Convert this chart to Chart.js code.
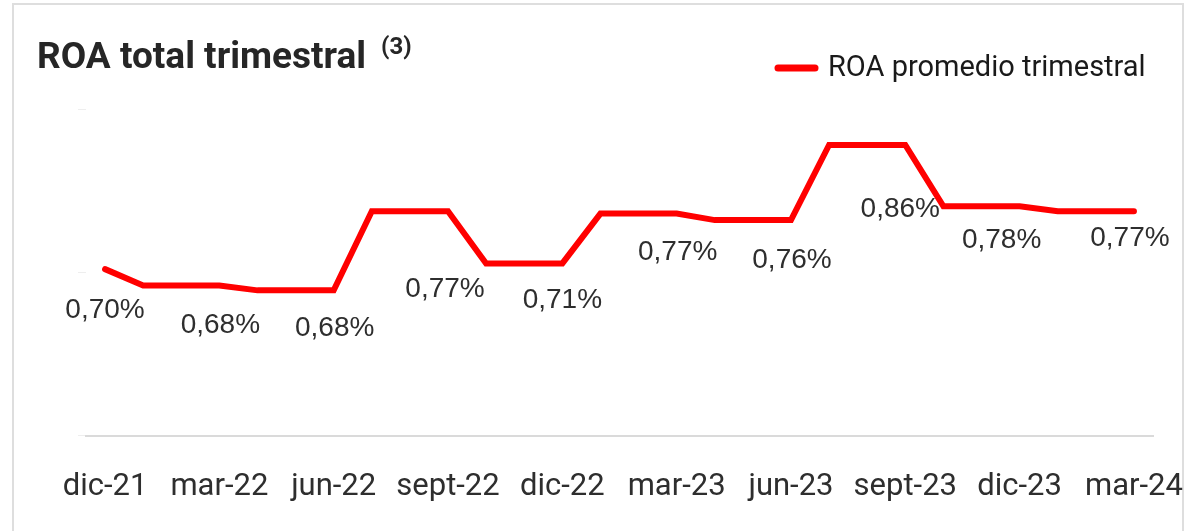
<!DOCTYPE html>
<html>
<head>
<meta charset="utf-8">
<script src="https://cdn.jsdelivr.net/npm/chart.js@4.4.1/dist/chart.umd.min.js"></script>
<style>
  html, body { margin: 0; padding: 0; background: #fff; }
  #wrap { position: relative; width: 1196px; height: 531px; overflow: hidden; }
  #frame {
    position: absolute; left: 12px; top: 3px; width: 1172px; height: 600px;
    border: 2px solid #dedede; box-sizing: border-box;
  }
  canvas { position: absolute; left: 0; top: 0; }
</style>
</head>
<body>
<div id="wrap">
  <div id="frame"></div>
  <canvas id="chart" width="1196" height="531"></canvas>
</div>
<script>
// ROA total trimestral — monthly line, quarter labels on the axis.

const QUARTERS = ["dic-21", "mar-22", "jun-22", "sept-22", "dic-22", "mar-23", "jun-23", "sept-23", "dic-23", "mar-24"];

// one value per month, dic-21 .. mar-24 (28 months)
const ROA_MONTHLY = [
  0.704,
  0.684, 0.684, 0.684,
  0.678, 0.678, 0.678,
  0.775, 0.775, 0.775,
  0.711, 0.711, 0.711,
  0.772, 0.772, 0.772,
  0.764, 0.764, 0.764,
  0.856, 0.856, 0.856,
  0.781, 0.781, 0.781,
  0.775, 0.775, 0.775,
];

// printed value at each quarter end
const ROA_QUARTER_TEXT = ["0,70%", "0,68%", "0,68%", "0,77%", "0,71%", "0,77%", "0,76%", "0,86%", "0,78%", "0,77%"];

const Y_TICKS = [0.5, 0.7, 0.9];

const RED = "#ff0000";
const TEXT = "#2e2e2e";

// label nudges (px) relative to the quarter-end point
const LABEL_DX = [0, 1, 1, -3, 0, 1, 1, -5, -18, -4];
const LABEL_DY = [41, 40, 38, 78, 37, 39, 40, 64, 34, 27];

const headerPlugin = {
  id: "header",
  afterDraw(chart) {
    const ctx = chart.ctx;
    ctx.save();
    ctx.fillStyle = "#262626";
    ctx.textBaseline = "alphabetic";
    ctx.textAlign = "left";
    ctx.font = "bold 37px Roboto";
    const title = "ROA total trimestral";
    ctx.fillText(title, 37, 68);
    const w = ctx.measureText(title).width;
    ctx.font = "bold 24px Roboto";
    ctx.fillText("(3)", 37 + w + 15, 54);

    // legend
    ctx.strokeStyle = RED;
    ctx.lineWidth = 7;
    ctx.lineCap = "round";
    ctx.beginPath();
    ctx.moveTo(778, 68);
    ctx.lineTo(815, 68);
    ctx.stroke();
    ctx.fillStyle = "#1a1a1a";
    ctx.font = "29px Roboto";
    ctx.textBaseline = "middle";
    ctx.fillText("ROA promedio trimestral", 828, 69);
    ctx.restore();
  },
};

const valueLabels = {
  id: "valueLabels",
  afterDatasetsDraw(chart) {
    const ctx = chart.ctx;
    const meta = chart.getDatasetMeta(0);
    ctx.save();
    ctx.fillStyle = TEXT;
    ctx.font = "28px 'Liberation Sans', Arial, sans-serif";
    ctx.textAlign = "center";
    ctx.textBaseline = "middle";
    ROA_QUARTER_TEXT.forEach((txt, q) => {
      const pt = meta.data[q * 3];
      if (!pt) return;
      ctx.fillText(txt, pt.x + LABEL_DX[q], pt.y + LABEL_DY[q]);
    });
    ctx.restore();
  },
};

new Chart(document.getElementById("chart"), {
  type: "line",
  data: {
    datasets: [{
      label: "ROA promedio trimestral",
      data: ROA_MONTHLY.map((v, i) => ({ x: i, y: v })),
      borderColor: RED,
      backgroundColor: RED,
      borderWidth: 6,
      borderCapStyle: "round",
      borderJoinStyle: "miter",
      pointRadius: 0,
      tension: 0,
    }],
  },
  plugins: [valueLabels, headerPlugin],
  options: {
    responsive: false,
    animation: false,
    layout: { padding: { left: 78, right: 43, top: 109, bottom: 0 } },
    plugins: {
      legend: { display: false },
      tooltip: { enabled: false },
    },
    scales: {
      x: {
        type: "linear",
        min: -0.5,
        max: ROA_MONTHLY.length - 0.5,
        afterBuildTicks: (axis) => {
          axis.ticks = QUARTERS.map((_, q) => ({ value: q * 3 }));
        },
        // labels may spill past the plot edges, like the original
        afterFit: (axis) => {
          axis.paddingLeft = 0;
          axis.paddingRight = 0;
        },
        grid: { display: false },
        border: { display: true, color: "#dadada", width: 2 },
        ticks: {
          autoSkip: false,
          maxRotation: 0,
          padding: 25,
          color: TEXT,
          font: { family: "Roboto", size: 31 },
          callback: (v) => QUARTERS[v / 3],
        },
      },
      y: {
        min: 0.5,
        max: 0.9,
        afterBuildTicks: (axis) => {
          axis.ticks = Y_TICKS.map((v) => ({ value: v }));
        },
        grid: { drawOnChartArea: false, drawTicks: true, tickLength: 8, color: "#eeeeee" },
        border: { display: false },
        ticks: { display: false },
      },
    },
  },
});
</script>
</body>
</html>
